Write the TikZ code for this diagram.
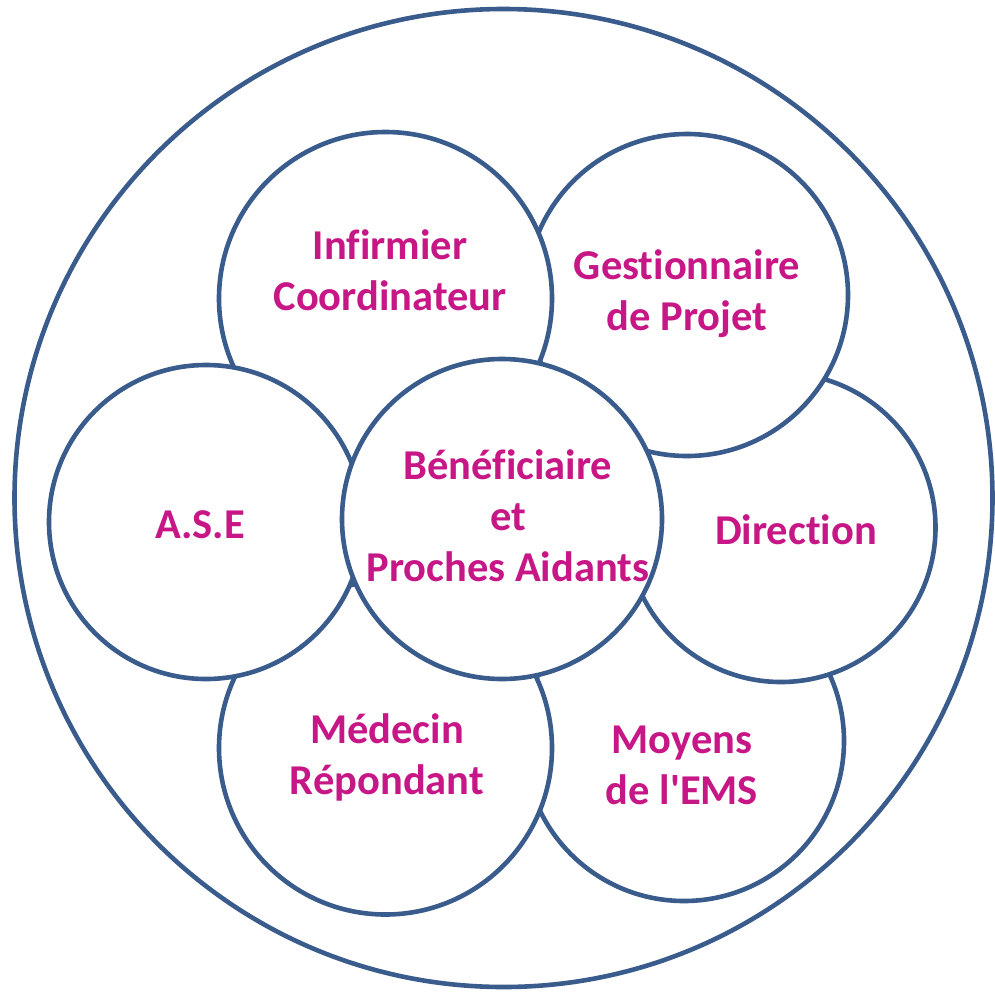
\documentclass[tikz,border=0pt]{standalone}
\usepackage{fontspec}
\newfontfamily\lblfont{Carlito}[Ligatures=NoCommon]
\definecolor{ringblue}{RGB}{58,92,140}
\definecolor{labelpink}{RGB}{199,22,133}
\tikzset{
  ring/.style={circle, draw=ringblue, line width=4.6pt, fill=white, inner sep=0pt},
  lbl/.style={text=labelpink, font=\lblfont\bfseries\fontsize{42.5}{51}\selectfont, align=center, inner sep=0pt}
}
\begin{document}
\begin{tikzpicture}[x=1pt,y=-1pt]
\useasboundingbox (0,0) rectangle (995,997);
\node[ring, minimum size=978pt] (outer) at (503.5,498) {};
\node[ring, minimum size=320pt] (moyensC) at (684,741) {};
\node[ring, minimum size=309pt] (directionC) at (781,527.5) {};
\node[ring, minimum size=322pt] (gestionC) at (687,295) {};
\node[ring, minimum size=333pt] (infirmierC) at (385.5,298.5) {};
\node[ring, minimum size=333pt] (medecinC) at (385.5,748) {};
\node[ring, minimum size=314pt] (aseC) at (206,522) {};
\node[ring, minimum size=320pt] (centerC) at (502,519) {};
\node[lbl] (infirmier) at (390,270) {Infirmier\\Coordinateur};
\node[lbl] (gestion) at (687,294) {Gestionnaire\\de Projet};
\node[lbl] (ase) at (200,525) {A.S.E};
\node[lbl] (direction) at (796,530) {Direction};
\node[lbl] (medecin) at (387,757) {Médecin\\Répondant};
\node[lbl] (moyens) at (682,765) {Moyens\\de l\symbol{39}EMS};
\node[lbl] (center) at (508,516) {Bénéficiaire\\et\\Proches Aidants};
\end{tikzpicture}
\end{document}
